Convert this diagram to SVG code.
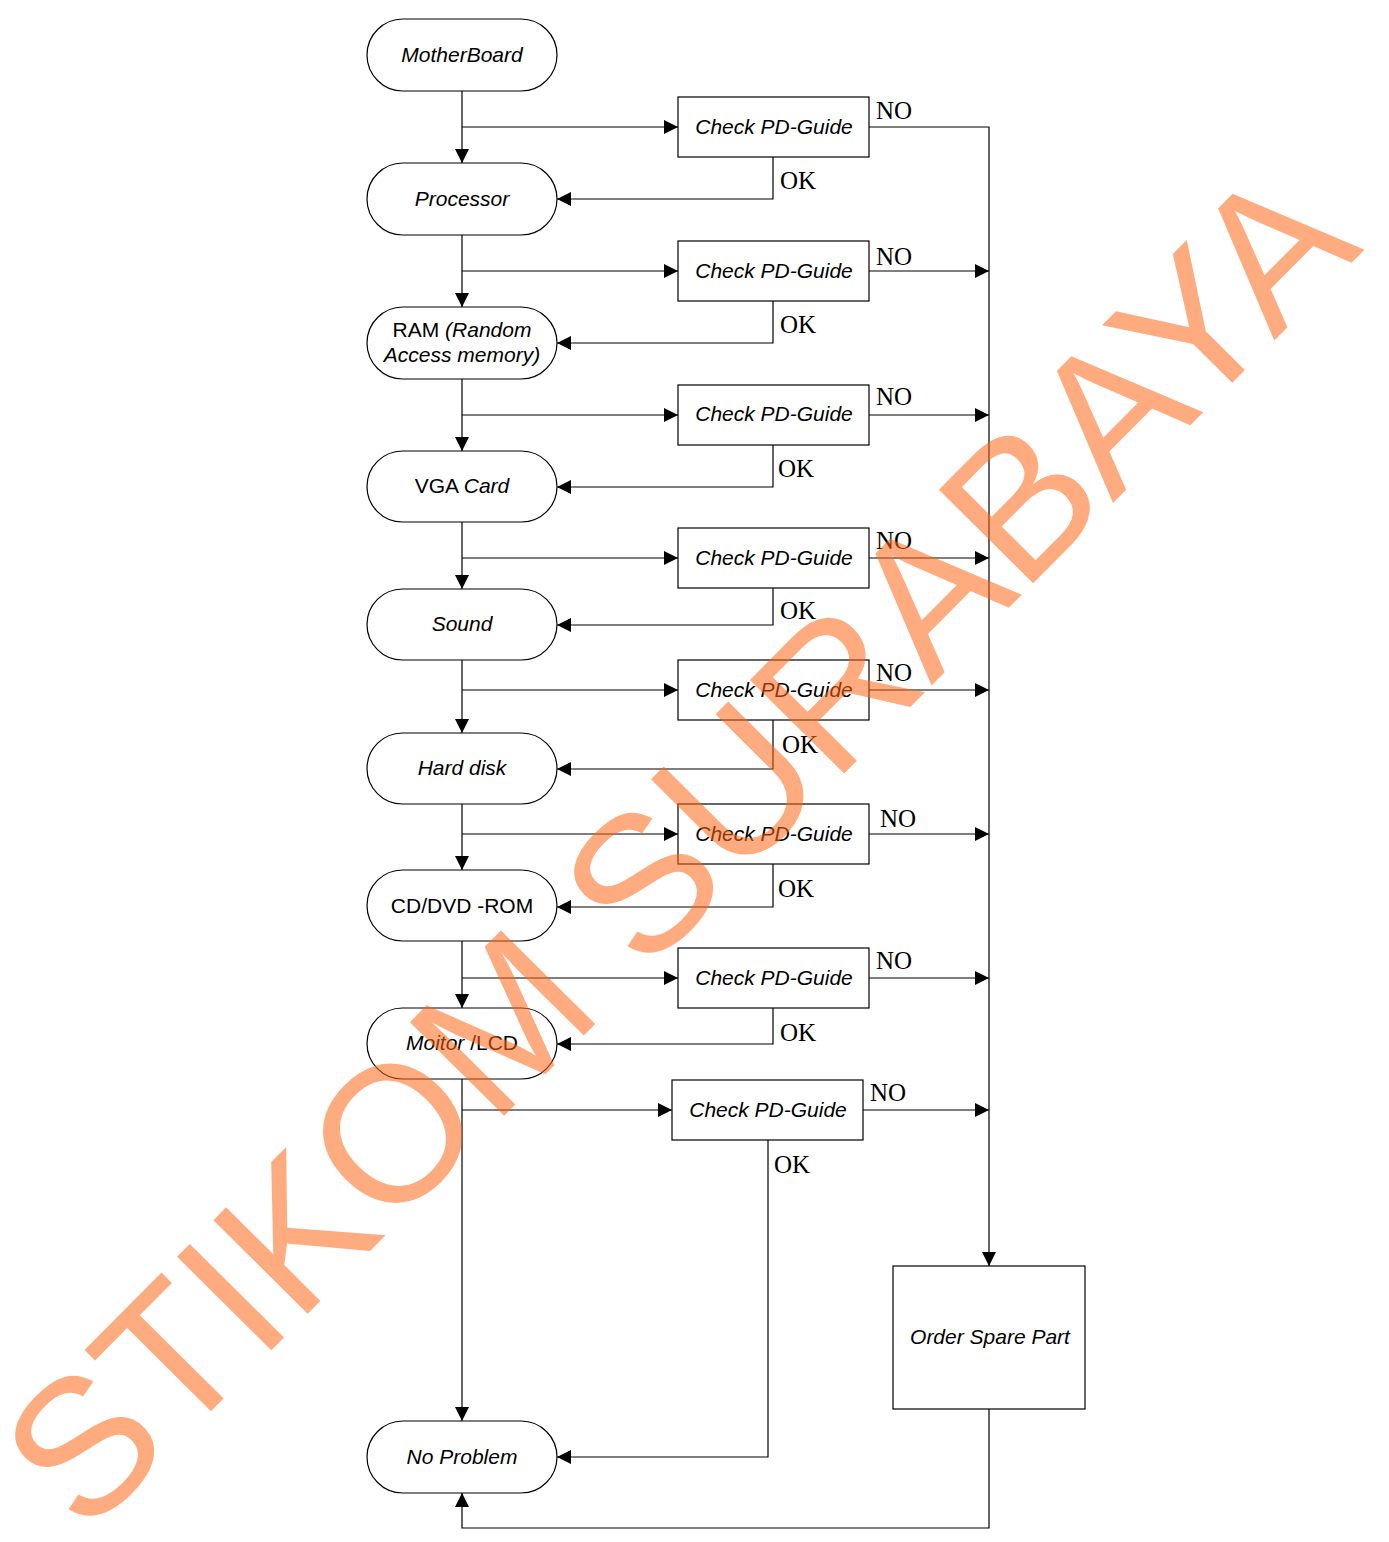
<svg xmlns="http://www.w3.org/2000/svg" width="1389" height="1542" viewBox="0 0 1389 1542">
<style>
.term{fill:#fff;stroke:#000;stroke-width:1.2}
.box{fill:#fff;stroke:#000;stroke-width:1.2}
.t{font-family:"Liberation Sans",Arial,sans-serif;font-size:21px;fill:#000;text-anchor:middle}
.i{font-style:italic}
.n{font-style:normal}
.lbl{font-family:"Liberation Serif","Times New Roman",serif;font-size:25px;fill:#000}
.c{fill:none;stroke:#000;stroke-width:1.2}
.wm{font-family:"Liberation Sans",Arial,sans-serif;font-size:193px;fill:#FF6618;fill-opacity:0.55}
</style>
<defs>
<marker id="ah" markerUnits="userSpaceOnUse" markerWidth="14" markerHeight="14" viewBox="0 0 14 14" refX="14" refY="7" orient="auto">
<path d="M0,0 L14,7 L0,14 Z" fill="#000"/>
</marker>
</defs>
<rect width="1389" height="1542" fill="#fff"/>

<g id="connectors">
<path class="c" d="M462,91 V163" marker-end="url(#ah)"/>
<path class="c" d="M462,235 V307" marker-end="url(#ah)"/>
<path class="c" d="M462,379 V451" marker-end="url(#ah)"/>
<path class="c" d="M462,522 V589" marker-end="url(#ah)"/>
<path class="c" d="M462,660 V733" marker-end="url(#ah)"/>
<path class="c" d="M462,804 V870" marker-end="url(#ah)"/>
<path class="c" d="M462,941 V1008" marker-end="url(#ah)"/>
<path class="c" d="M462,1079 V1421" marker-end="url(#ah)"/>

<path class="c" d="M462,127 H678" marker-end="url(#ah)"/>
<path class="c" d="M462,271 H678" marker-end="url(#ah)"/>
<path class="c" d="M462,415 H678" marker-end="url(#ah)"/>
<path class="c" d="M462,558 H678" marker-end="url(#ah)"/>
<path class="c" d="M462,690 H678" marker-end="url(#ah)"/>
<path class="c" d="M462,834 H678" marker-end="url(#ah)"/>
<path class="c" d="M462,978 H678" marker-end="url(#ah)"/>
<path class="c" d="M462,1110 H672" marker-end="url(#ah)"/>

<path class="c" d="M773,157 V199 H557" marker-end="url(#ah)"/>
<path class="c" d="M773,301 V343 H557" marker-end="url(#ah)"/>
<path class="c" d="M773,445 V487 H557" marker-end="url(#ah)"/>
<path class="c" d="M773,588 V625 H557" marker-end="url(#ah)"/>
<path class="c" d="M773,720 V769 H557" marker-end="url(#ah)"/>
<path class="c" d="M773,864 V907 H557" marker-end="url(#ah)"/>
<path class="c" d="M773,1008 V1044 H557" marker-end="url(#ah)"/>
<path class="c" d="M768,1140 V1457 H557" marker-end="url(#ah)"/>

<path class="c" d="M869,127 H989 V1266" marker-end="url(#ah)"/>
<path class="c" d="M869,271 H989" marker-end="url(#ah)"/>
<path class="c" d="M869,415 H989" marker-end="url(#ah)"/>
<path class="c" d="M869,558 H989" marker-end="url(#ah)"/>
<path class="c" d="M869,690 H989" marker-end="url(#ah)"/>
<path class="c" d="M869,834 H989" marker-end="url(#ah)"/>
<path class="c" d="M869,978 H989" marker-end="url(#ah)"/>
<path class="c" d="M863,1110 H989" marker-end="url(#ah)"/>

<path class="c" d="M989,1409 V1528 H462 V1493" marker-end="url(#ah)"/>

<text class="lbl" x="876" y="119">NO</text>
<text class="lbl" x="780" y="189">OK</text>
<text class="lbl" x="876" y="265">NO</text>
<text class="lbl" x="780" y="333">OK</text>
<text class="lbl" x="876" y="405">NO</text>
<text class="lbl" x="778" y="477">OK</text>
<text class="lbl" x="876" y="549">NO</text>
<text class="lbl" x="780" y="619">OK</text>
<text class="lbl" x="876" y="681">NO</text>
<text class="lbl" x="782" y="753">OK</text>
<text class="lbl" x="880" y="827">NO</text>
<text class="lbl" x="778" y="897">OK</text>
<text class="lbl" x="876" y="969">NO</text>
<text class="lbl" x="780" y="1041">OK</text>
<text class="lbl" x="870" y="1101">NO</text>
<text class="lbl" x="774" y="1173">OK</text>
</g>

<g id="motherboard"><rect class="term" x="367" y="19" width="190" height="72" rx="36"/><text class="t i" x="462" y="62">MotherBoard</text></g>
<g id="processor"><rect class="term" x="367" y="163" width="190" height="72" rx="36"/><text class="t i" x="462" y="206">Processor</text></g>
<g id="ram"><rect class="term" x="367" y="307" width="190" height="72" rx="36"/><text class="t" x="462" y="337"><tspan class="n">RAM </tspan><tspan class="i">(Random</tspan></text><text class="t i" x="462" y="362">Access memory)</text></g>
<g id="vga"><rect class="term" x="367" y="451" width="190" height="71" rx="35.5"/><text class="t" x="462" y="493"><tspan class="n">VGA </tspan><tspan class="i">Card</tspan></text></g>
<g id="sound"><rect class="term" x="367" y="589" width="190" height="71" rx="35.5"/><text class="t i" x="462" y="631">Sound</text></g>
<g id="harddisk"><rect class="term" x="367" y="733" width="190" height="71" rx="35.5"/><text class="t i" x="462" y="775">Hard disk</text></g>
<g id="cddvd"><rect class="term" x="367" y="870" width="190" height="71" rx="35.5"/><text class="t" x="462" y="913">CD/DVD -ROM</text></g>
<g id="monitor"><rect class="term" x="367" y="1008" width="190" height="71" rx="35.5"/><text class="t" x="462" y="1050"><tspan class="i">Moitor </tspan><tspan class="n">/LCD</tspan></text></g>
<g id="noproblem"><rect class="term" x="367" y="1421" width="190" height="72" rx="36"/><text class="t i" x="462" y="1464">No Problem</text></g>

<g id="check1"><rect class="box" x="678" y="97" width="191" height="60"/><text class="t i" x="774" y="134">Check PD-Guide</text></g>
<g id="check2"><rect class="box" x="678" y="241" width="191" height="60"/><text class="t i" x="774" y="278">Check PD-Guide</text></g>
<g id="check3"><rect class="box" x="678" y="385" width="191" height="60"/><text class="t i" x="774" y="421">Check PD-Guide</text></g>
<g id="check4"><rect class="box" x="678" y="528" width="191" height="60"/><text class="t i" x="774" y="565">Check PD-Guide</text></g>
<g id="check5"><rect class="box" x="678" y="660" width="191" height="60"/><text class="t i" x="774" y="697">Check PD-Guide</text></g>
<g id="check6"><rect class="box" x="678" y="804" width="191" height="60"/><text class="t i" x="774" y="841">Check PD-Guide</text></g>
<g id="check7"><rect class="box" x="678" y="948" width="191" height="60"/><text class="t i" x="774" y="985">Check PD-Guide</text></g>
<g id="check8"><rect class="box" x="672" y="1080" width="191" height="60"/><text class="t i" x="768" y="1117">Check PD-Guide</text></g>

<g id="orderspare"><rect class="box" x="893" y="1266" width="192" height="143"/><text class="t i" x="990" y="1344">Order Spare Part</text></g>

<g id="watermark"><text class="wm" transform="translate(85,1538) rotate(-45.2)">STIKOM SURABAYA</text></g>
</svg>
